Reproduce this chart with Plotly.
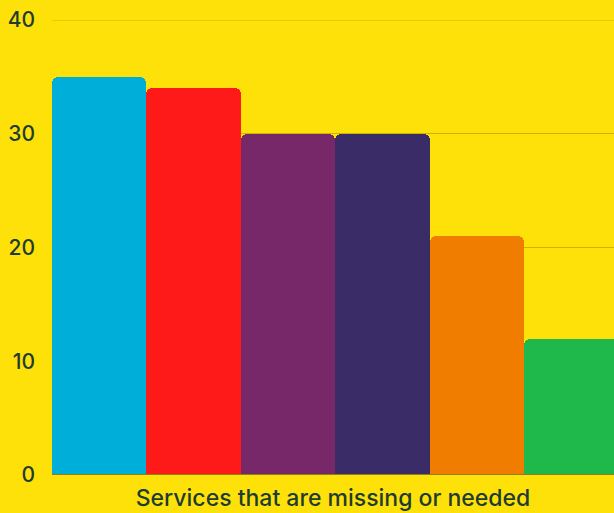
import plotly.graph_objects as go

categories = ["Service 1", "Service 2", "Service 3", "Service 4", "Service 5", "Service 6"]
values = [35, 34, 30, 30, 21, 12]
colors = ["#00AEDA", "#FF1A1A", "#762869", "#3A2C66", "#F07C00", "#1FB84A"]
y_ticks = [0, 10, 20, 30, 40]

bg = "#FFE10A"
text_color = "#1E3D30"
grid_color = "#C9B500"

fig = go.Figure(
    go.Bar(
        x=categories,
        y=values,
        marker=dict(color=colors, line=dict(width=0)),
        hoverinfo="x+y",
    )
)

# baseline and top grid line (top one is clipped by plotly at the range edge)
fig.add_shape(
    type="line", xref="paper", yref="y", x0=0, x1=1, y0=0, y1=0,
    line=dict(color="#8A8020", width=2), layer="above",
)
fig.add_shape(
    type="line", xref="paper", yref="y", x0=0, x1=1, y0=y_ticks[-1], y1=y_ticks[-1],
    line=dict(color=grid_color, width=1), layer="below",
)

fig.update_layout(
    width=614,
    height=513,
    margin=dict(l=52, r=0, t=20, b=38),
    paper_bgcolor=bg,
    plot_bgcolor=bg,
    bargap=0,
    barcornerradius=6,
    showlegend=False,
    font=dict(family="Inter, Noto Sans, sans-serif", color=text_color, size=21, weight=500),
)

fig.update_xaxes(
    range=[-0.5, len(categories) - 0.55],
    showticklabels=False,
    showgrid=False,
    title=dict(text="Services that are missing or needed",
               font=dict(size=23, color=text_color, weight=500), standoff=14),
    showline=False,
    ticks="",
)
fig.update_yaxes(
    range=[0, 40],
    tickvals=y_ticks,
    gridcolor=grid_color,
    gridwidth=1,
    zeroline=False,
    tickfont=dict(size=21, color=text_color, weight=500),
    ticklabelstandoff=16,
    showline=False,
)

fig.write_html(
    "out.html",
    config={"displayModeBar": False},
    post_script="document.body.style.margin='0';document.body.style.background='#FFE10A';",
)
